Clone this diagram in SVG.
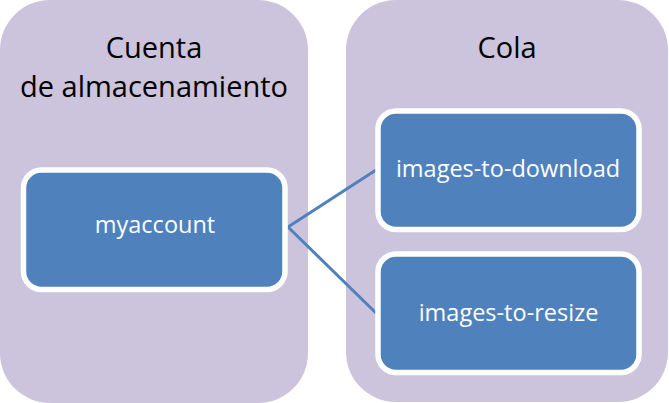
<svg xmlns="http://www.w3.org/2000/svg" width="669" height="403" viewBox="0 0 669 403">
<style>
.container{fill:#ccc3dc;stroke:none}
.box{fill:#4f81bd;stroke:#ffffff;stroke-width:5.5}
.title{font-family:"Open Sans","Liberation Sans",sans-serif;font-size:29px;fill:#000000;text-anchor:middle}
.label{font-family:"Open Sans","Liberation Sans",sans-serif;font-size:23.5px;fill:#ffffff;text-anchor:middle}
.conn{stroke:#4f81bd;stroke-width:3;fill:none}
</style>
<rect width="669" height="403" fill="#ffffff"/>
<g id="storage-account">
<rect class="container" x="0" y="0" width="308" height="403" rx="50" ry="50"/>
<text class="title" x="154" y="58">Cuenta</text>
<text class="title" x="154" y="97">de almacenamiento</text>
</g>
<g id="queue">
<rect class="container" x="346" y="0" width="322" height="402" rx="50" ry="50"/>
<text class="title" x="507" y="58">Cola</text>
</g>
<g id="connectors">
<line class="conn" x1="288" y1="227" x2="376" y2="170"/>
<line class="conn" x1="288" y1="227" x2="376" y2="313"/>
</g>
<g id="myaccount">
<rect class="box" x="23.5" y="170" width="261.5" height="119.5" rx="18" ry="18"/>
<text class="label" x="155" y="233">myaccount</text>
</g>
<g id="images-to-download">
<rect class="box" x="378" y="111" width="261" height="118.5" rx="18" ry="18"/>
<text class="label" x="508" y="177">images-to-download</text>
</g>
<g id="images-to-resize">
<rect class="box" x="378" y="254" width="261" height="118.5" rx="18" ry="18"/>
<text class="label" x="508.5" y="321">images-to-resize</text>
</g>
</svg>
